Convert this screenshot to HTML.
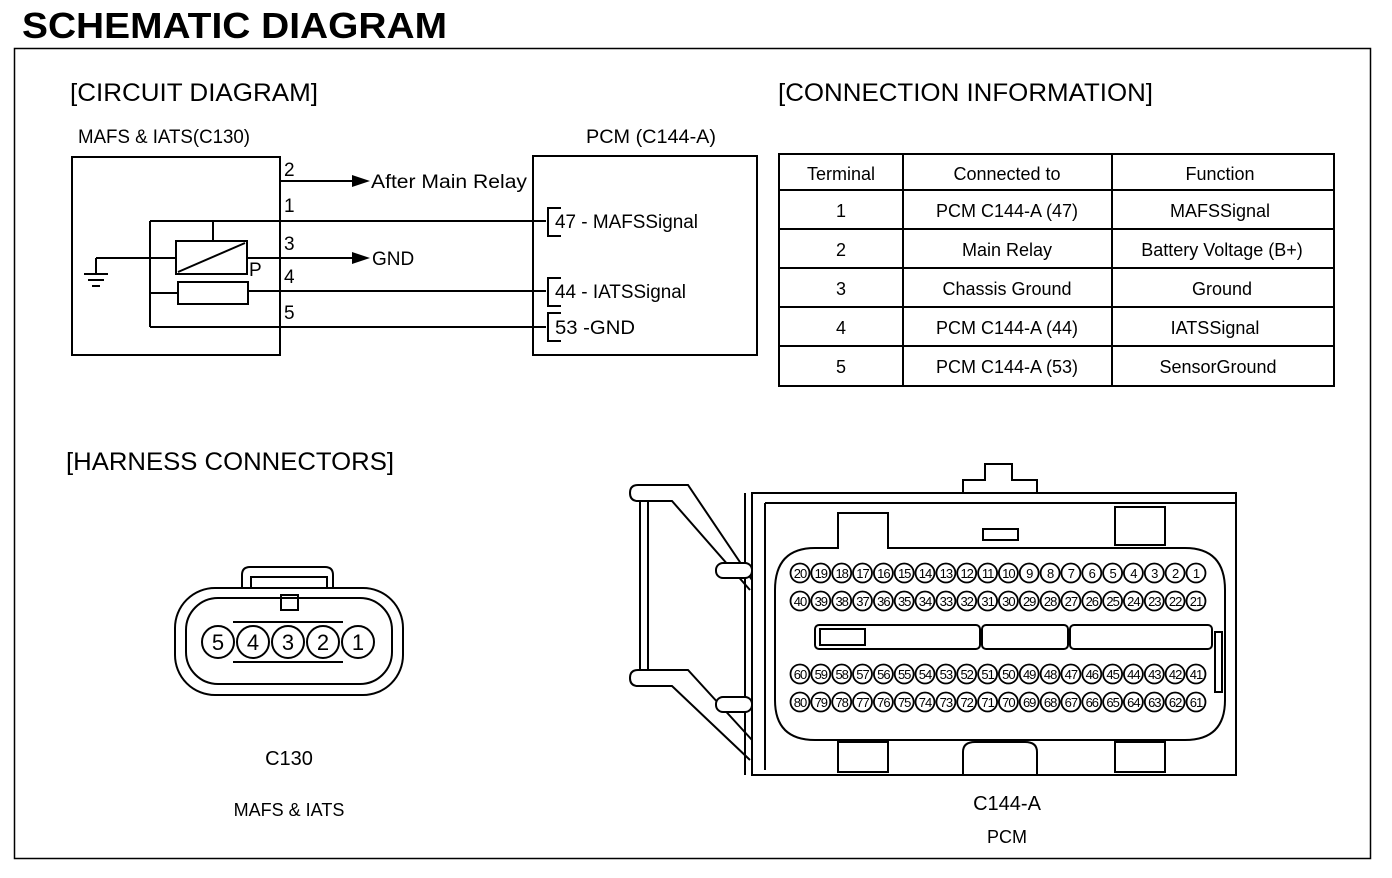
<!DOCTYPE html>
<html><head><meta charset="utf-8"><style>
html,body{margin:0;padding:0;background:#fff;}
svg{display:block;font-family:"Liberation Sans",sans-serif;}
</style></head><body>
<svg width="1392" height="878" viewBox="0 0 1392 878" xmlns="http://www.w3.org/2000/svg">
<defs>
<g id="row">
<circle cx="800" cy="0" r="9.5"/><circle cx="820.8" cy="0" r="9.5"/><circle cx="841.7" cy="0" r="9.5"/><circle cx="862.5" cy="0" r="9.5"/><circle cx="883.4" cy="0" r="9.5"/><circle cx="904.2" cy="0" r="9.5"/><circle cx="925" cy="0" r="9.5"/><circle cx="945.9" cy="0" r="9.5"/><circle cx="966.7" cy="0" r="9.5"/><circle cx="987.6" cy="0" r="9.5"/><circle cx="1008.4" cy="0" r="9.5"/><circle cx="1029.2" cy="0" r="9.5"/><circle cx="1050.1" cy="0" r="9.5"/><circle cx="1070.9" cy="0" r="9.5"/><circle cx="1091.8" cy="0" r="9.5"/><circle cx="1112.6" cy="0" r="9.5"/><circle cx="1133.4" cy="0" r="9.5"/><circle cx="1154.3" cy="0" r="9.5"/><circle cx="1175.1" cy="0" r="9.5"/><circle cx="1196" cy="0" r="9.5"/>
</g>
</defs>
<rect width="1392" height="878" fill="#fff"/>
<text x="22" y="38" font-size="36" font-weight="bold" textLength="425" lengthAdjust="spacingAndGlyphs">SCHEMATIC DIAGRAM</text>
<rect x="14.5" y="48.5" width="1356" height="810" fill="none" stroke="#000" stroke-width="1.5"/>

<g font-size="25">
<text x="70" y="101" textLength="248" lengthAdjust="spacingAndGlyphs">[CIRCUIT DIAGRAM]</text>
<text x="778" y="101" textLength="375" lengthAdjust="spacingAndGlyphs">[CONNECTION INFORMATION]</text>
<text x="66" y="470" textLength="328" lengthAdjust="spacingAndGlyphs">[HARNESS CONNECTORS]</text>
</g>

<!-- circuit -->
<g stroke="#000" fill="none" stroke-width="2">
<rect x="72" y="157" width="208" height="198"/>
<rect x="533" y="156" width="224" height="199"/>
<line x1="280" y1="181" x2="355" y2="181"/>
<line x1="280" y1="258" x2="355" y2="258"/>
<line x1="150" y1="221" x2="546" y2="221"/>
<line x1="150" y1="221" x2="150" y2="327"/>
<line x1="150" y1="327" x2="546" y2="327"/>
<line x1="150" y1="293" x2="178" y2="293"/>
<line x1="248" y1="291" x2="546" y2="291"/>
<line x1="213" y1="221" x2="213" y2="241"/>
<rect x="176" y="241" width="71" height="33"/>
<line x1="178" y1="272" x2="245" y2="243"/>
<rect x="178" y="282" width="70" height="22"/>
<line x1="96" y1="258" x2="176" y2="258"/>
<line x1="96" y1="258" x2="96" y2="274"/>
<line x1="84" y1="274" x2="108" y2="274"/>
<line x1="88" y1="280" x2="104" y2="280"/>
<line x1="92" y1="286" x2="100" y2="286"/>
<line x1="247" y1="258" x2="280" y2="258"/>
<path d="M561 208 H548 V236 H561"/>
<path d="M561 278 H548 V306 H561"/>
<path d="M561 313 H548 V341 H561"/>
</g>
<polygon points="352,175 370,181 352,187" fill="#000"/>
<polygon points="352,252 370,258 352,264" fill="#000"/>
<g font-size="19">
<text x="78" y="143" textLength="172" lengthAdjust="spacingAndGlyphs">MAFS &amp; IATS(C130)</text>
<text x="586" y="143" textLength="130" lengthAdjust="spacingAndGlyphs">PCM (C144-A)</text>
<text x="284" y="176">2</text>
<text x="284" y="212">1</text>
<text x="284" y="250">3</text>
<text x="284" y="283">4</text>
<text x="284" y="319">5</text>
<text x="249" y="276">P</text>
<text x="371" y="188" textLength="156" lengthAdjust="spacingAndGlyphs">After Main Relay</text>
<text x="372" y="265">GND</text>
<text x="555" y="228" textLength="143" lengthAdjust="spacingAndGlyphs">47 - MAFSSignal</text>
<text x="555" y="298" textLength="131" lengthAdjust="spacingAndGlyphs">44 - IATSSignal</text>
<text x="555" y="334" textLength="80" lengthAdjust="spacingAndGlyphs">53 -GND</text>
</g>

<!-- table -->
<g stroke="#000" stroke-width="2" fill="none">
<rect x="779" y="154" width="555" height="232"/>
<line x1="903" y1="154" x2="903" y2="386"/>
<line x1="1112" y1="154" x2="1112" y2="386"/>
<line x1="779" y1="190" x2="1334" y2="190"/>
<line x1="779" y1="229" x2="1334" y2="229"/>
<line x1="779" y1="268" x2="1334" y2="268"/>
<line x1="779" y1="307" x2="1334" y2="307"/>
<line x1="779" y1="346" x2="1334" y2="346"/>
</g>
<g font-size="18" text-anchor="middle">
<text x="841" y="180">Terminal</text><text x="1007" y="180">Connected to</text><text x="1220" y="180">Function</text>
<text x="841" y="217">1</text><text x="1007" y="217">PCM C144-A (47)</text><text x="1220" y="217">MAFSSignal</text>
<text x="841" y="256">2</text><text x="1007" y="256">Main Relay</text><text x="1222" y="256">Battery Voltage (B+)</text>
<text x="841" y="295">3</text><text x="1007" y="295">Chassis Ground</text><text x="1222" y="295">Ground</text>
<text x="841" y="334">4</text><text x="1007" y="334">PCM C144-A (44)</text><text x="1215" y="334">IATSSignal</text>
<text x="841" y="373">5</text><text x="1007" y="373">PCM C144-A (53)</text><text x="1218" y="373">SensorGround</text>
</g>

<!-- C130 -->
<g stroke="#000" stroke-width="2" fill="none">
<path d="M242 588 V575 Q242 567 250 567 H325 Q333 567 333 575 V588"/>
<rect x="251" y="577" width="76" height="11"/>
<rect x="281" y="595" width="17" height="15"/>
<rect x="175" y="588" width="228" height="107" rx="40"/>
<rect x="186" y="598" width="206" height="86" rx="32"/>
<line x1="233" y1="622" x2="343" y2="622"/>
<line x1="233" y1="662" x2="343" y2="662"/>
</g>
<g stroke="#000" stroke-width="2" fill="#fff">
<circle cx="218" cy="642" r="16"/><circle cx="253" cy="642" r="16"/><circle cx="288" cy="642" r="16"/><circle cx="323" cy="642" r="16"/><circle cx="358" cy="642" r="16"/>
</g>
<g font-size="22" text-anchor="middle">
<text x="218" y="650">5</text><text x="253" y="650">4</text><text x="288" y="650">3</text><text x="323" y="650">2</text><text x="358" y="650">1</text>
</g>
<text x="289" y="765" font-size="20" text-anchor="middle">C130</text>
<text x="289" y="816" font-size="18" text-anchor="middle">MAFS &amp; IATS</text>

<!-- PCM connector -->
<g stroke="#000" stroke-width="2" fill="none">
<path d="M752 493 H1236 V775 H752 Z"/>
<line x1="765" y1="503" x2="765" y2="770"/>
<line x1="765" y1="503" x2="1236" y2="503"/>
<path d="M963 492 V480 H985 V464 H1012 V480 H1037 V492"/>
<path d="M775 590 Q775 548 815 548 H838 V513 H888 V548 H1185 Q1225 548 1225 590 V700 Q1225 740 1185 740 H815 Q775 740 775 700 Z"/>
<rect x="1115" y="507" width="50" height="38"/>
<rect x="983" y="529" width="35" height="11"/>
<path d="M963 775 V752 Q963 742 975 742 H1025 Q1037 742 1037 752 V775"/>
<rect x="838" y="742" width="50" height="30"/>
<rect x="1115" y="742" width="50" height="30"/>
<path d="M745 493 V775"/>
<path d="M638 485 Q630 485 630 493 Q630 501 638 501 H672 L750 590"/>
<path d="M638 485 H688 L752 580"/>
<path d="M638 670 Q630 670 630 678 Q630 686 638 686 H672 L750 760"/>
<path d="M638 670 H688 L752 740"/>
<line x1="640" y1="501" x2="640" y2="670"/>
<line x1="648" y1="501" x2="648" y2="670"/>
<rect x="716" y="563" width="36" height="15" rx="7" fill="#fff"/>
<rect x="716" y="697" width="36" height="15" rx="7" fill="#fff"/>
<rect x="1215" y="632" width="7" height="60"/>
<rect x="815" y="625" width="165" height="24" rx="4"/>
<rect x="820" y="629" width="45" height="16"/>
<rect x="982" y="625" width="86" height="24" rx="4"/>
<rect x="1070" y="625" width="142" height="24" rx="4"/>
</g>
<g stroke="#000" stroke-width="1.8" fill="#fff">
<use href="#row" transform="translate(0,573)"/>
<use href="#row" transform="translate(0,601)"/>
<use href="#row" transform="translate(0,674)"/>
<use href="#row" transform="translate(0,702)"/>
</g>
<g font-size="13" text-anchor="middle" letter-spacing="-1">
<g transform="translate(0,578)">
<text x="800">20</text><text x="820.8">19</text><text x="841.7">18</text><text x="862.5">17</text><text x="883.4">16</text><text x="904.2">15</text><text x="925">14</text><text x="945.9">13</text><text x="966.7">12</text><text x="987.6">11</text><text x="1008.4">10</text><text x="1029.2">9</text><text x="1050.1">8</text><text x="1070.9">7</text><text x="1091.8">6</text><text x="1112.6">5</text><text x="1133.4">4</text><text x="1154.3">3</text><text x="1175.1">2</text><text x="1196">1</text>
</g>
<g transform="translate(0,606)">
<text x="800">40</text><text x="820.8">39</text><text x="841.7">38</text><text x="862.5">37</text><text x="883.4">36</text><text x="904.2">35</text><text x="925">34</text><text x="945.9">33</text><text x="966.7">32</text><text x="987.6">31</text><text x="1008.4">30</text><text x="1029.2">29</text><text x="1050.1">28</text><text x="1070.9">27</text><text x="1091.8">26</text><text x="1112.6">25</text><text x="1133.4">24</text><text x="1154.3">23</text><text x="1175.1">22</text><text x="1196">21</text>
</g>
<g transform="translate(0,679)">
<text x="800">60</text><text x="820.8">59</text><text x="841.7">58</text><text x="862.5">57</text><text x="883.4">56</text><text x="904.2">55</text><text x="925">54</text><text x="945.9">53</text><text x="966.7">52</text><text x="987.6">51</text><text x="1008.4">50</text><text x="1029.2">49</text><text x="1050.1">48</text><text x="1070.9">47</text><text x="1091.8">46</text><text x="1112.6">45</text><text x="1133.4">44</text><text x="1154.3">43</text><text x="1175.1">42</text><text x="1196">41</text>
</g>
<g transform="translate(0,707)">
<text x="800">80</text><text x="820.8">79</text><text x="841.7">78</text><text x="862.5">77</text><text x="883.4">76</text><text x="904.2">75</text><text x="925">74</text><text x="945.9">73</text><text x="966.7">72</text><text x="987.6">71</text><text x="1008.4">70</text><text x="1029.2">69</text><text x="1050.1">68</text><text x="1070.9">67</text><text x="1091.8">66</text><text x="1112.6">65</text><text x="1133.4">64</text><text x="1154.3">63</text><text x="1175.1">62</text><text x="1196">61</text>
</g>
</g>
<text x="1007" y="810" font-size="20" text-anchor="middle">C144-A</text>
<text x="1007" y="843" font-size="18" text-anchor="middle">PCM</text>
</svg>
</body></html>
